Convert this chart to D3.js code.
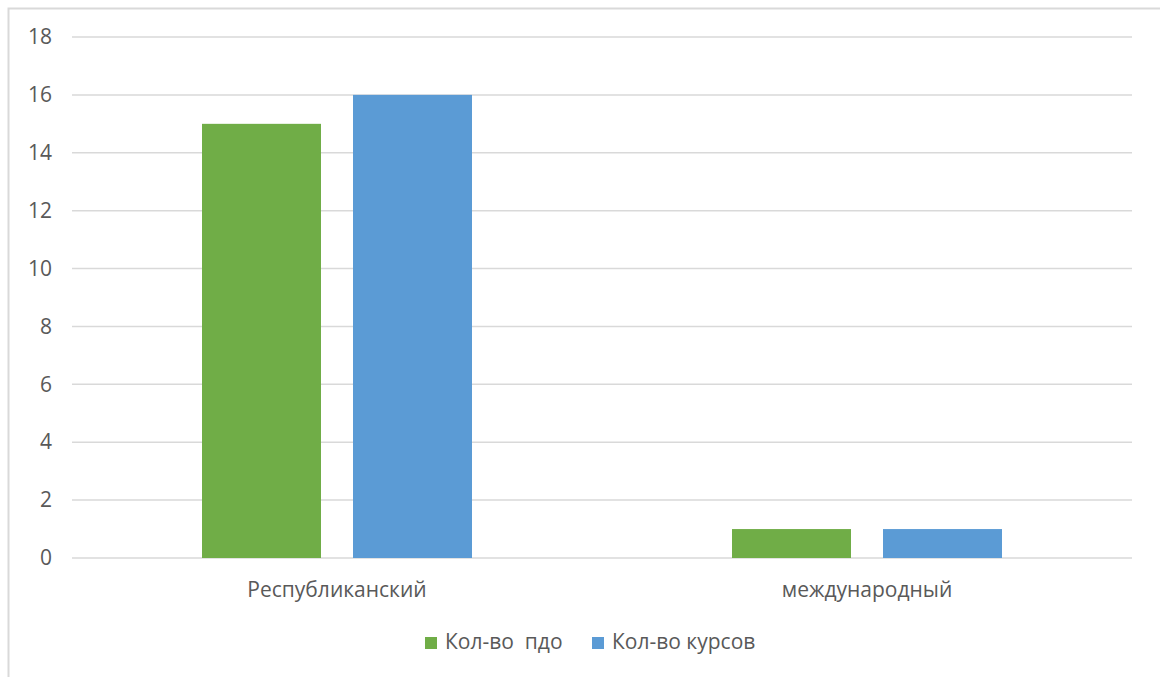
<!DOCTYPE html>
<html><head><meta charset="utf-8">
<script src="https://cdn.jsdelivr.net/npm/d3@7"></script>
<style>
html,body{margin:0;padding:0;background:#fff;}
text{font-family:"Open Sans","Noto Sans",sans-serif;fill:#595959;}
</style></head>
<body><svg id="c" width="1160" height="677"></svg>
<script>
const categories = ["Республиканский", "международный"];
const seriesNames = ["Кол-во  пдо", "Кол-во курсов"];
const seriesPdo = [15, 1];
const seriesKursov = [16, 1];
const yTicks = [0, 2, 4, 6, 8, 10, 12, 14, 16, 18];
const colors = ["#70AD47", "#5B9BD5"];

const svg = d3.select("#c");
// chart border
svg.append("path").attr("d","M8.5,677 V8.5 H1160").attr("fill","none").attr("stroke","#d9d9d9").attr("stroke-width",2);

const x0 = d3.scaleBand().domain(categories).range([72,1132]);
const x1 = d3.scaleBand().domain(seriesNames).range([0,x0.bandwidth()]).paddingInner(0.212).paddingOuter(0.861);
const y = d3.scaleLinear().domain([0,18]).range([558,37]);

// gridlines
svg.append("g").selectAll("line").data(yTicks).join("line")
  .attr("x1",72).attr("x2",1132).attr("y1",d=>y(d)).attr("y2",d=>y(d))
  .attr("stroke","#d9d9d9").attr("stroke-width",1.5);

const yAxis = svg.append("g").attr("transform","translate(72,0)")
  .call(d3.axisLeft(y).tickValues(yTicks).tickSize(0).tickPadding(20));
yAxis.select(".domain").remove();
yAxis.selectAll("text").style("font-size","21px").attr("fill","#595959").style("font-family","'Open Sans',sans-serif");

const data = categories.map((c,i)=>({cat:c, vals:[seriesPdo[i], seriesKursov[i]]}));
const g = svg.append("g");
g.selectAll("g").data(data).join("g").attr("transform",d=>`translate(${x0(d.cat)},0)`)
  .selectAll("rect").data(d=>d.vals.map((v,j)=>({name:seriesNames[j],v,j}))).join("rect")
  .attr("x",d=>x1(d.name)).attr("width",x1.bandwidth())
  .attr("y",d=>y(d.v)).attr("height",d=>y(0)-y(d.v)).attr("fill",d=>colors[d.j]);

const xAxis = svg.append("g").attr("transform","translate(0,558)")
  .call(d3.axisBottom(x0).tickSize(0).tickPadding(24));
xAxis.select(".domain").remove();
xAxis.selectAll("text").style("font-size","21px").attr("fill","#595959").style("font-family","'Open Sans',sans-serif");

// legend
const legendX = [425, 592];
const lg = svg.append("g");
seriesNames.forEach((n,i)=>{
  lg.append("rect").attr("x",legendX[i]).attr("y",637).attr("width",12).attr("height",12).attr("fill",colors[i]);
  lg.append("text").attr("x",legendX[i]+20).attr("y",649)
    .style("font-size","21px").style("white-space","pre").attr("xml:space","preserve").text(n);
});
</script></body></html>
